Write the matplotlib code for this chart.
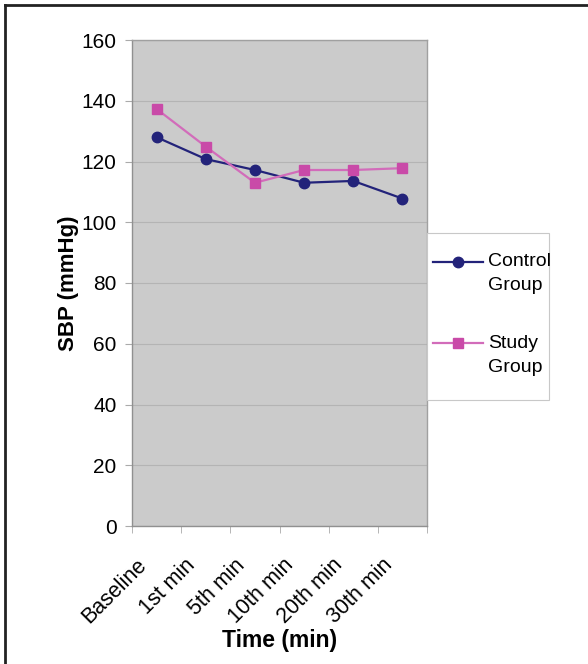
import numpy as np
import matplotlib
matplotlib.use("Agg")
import matplotlib.pyplot as plt
import matplotlib.transforms as mtransforms
from matplotlib.lines import Line2D
from matplotlib.patches import Rectangle

plt.rcParams['font.family'] = ['Liberation Sans', 'DejaVu Sans']

categories = ["Baseline", "1st min", "5th min", "10th min", "20th min", "30th min"]
control = [128.0, 120.8, 117.2, 113.0, 113.6, 107.8]
study = [137.3, 124.9, 113.0, 117.2, 117.2, 117.8]
legend_labels = ["Control\nGroup", "Study\nGroup"]

W, H = 588, 664
fig = plt.figure(figsize=(W / 100, H / 100), dpi=100)
ax = fig.add_axes([132/W, 1 - 526/H, 295/W, 486/H])

x = np.arange(len(categories))
ax.set_facecolor('#cbcbcb')
styles = [dict(color='#23237a', marker='o', ms=7.5, mfc='#23237a', mec='#23237a'),
          dict(color='#d26cba', marker='s', ms=7.5, mfc='#c94aa8', mec='#c94aa8')]
ax.plot(x, control, lw=1.6, zorder=3, **styles[0])
ax.plot(x, study, lw=1.6, zorder=3, **styles[1])

ax.set_xlim(-0.5, len(categories) - 0.5)
ax.set_ylim(0, 160)
ax.set_yticks(np.arange(0, 161, 20))
ax.yaxis.grid(True, color='#b4b4b4', lw=0.8)
ax.set_axisbelow(True)

ax.set_xticks(x)
ax.set_xticklabels(categories, rotation=45, ha='right', va='center',
                   rotation_mode='anchor', fontsize=15.5)
ax.set_xticks(np.arange(-0.5, len(categories)), minor=True)
ax.tick_params(axis='x', which='major', length=0, pad=0)
ax.tick_params(axis='x', which='minor', length=5, color='#aaaaaa', direction='out')
ax.tick_params(axis='y', length=5, color='#aaaaaa', labelsize=15, pad=6)
shift = mtransforms.ScaledTranslation(-0.135, -0.36, fig.dpi_scale_trans)
for lab in ax.get_xticklabels():
    lab.set_transform(lab.get_transform() + shift)

for s in ax.spines.values():
    s.set_color('#a0a0a0')
    s.set_linewidth(1.0)
ax.spines['left'].set_color('#909090')
ax.spines['bottom'].set_color('#909090')

ax.set_ylabel('SBP (mmHg)', fontsize=16, fontweight='bold', labelpad=2)
ax.set_xlabel('Time (min)', fontsize=16.5, fontweight='bold')
ax.xaxis.set_label_coords(0.5, -(640 - 526) / 486, transform=ax.transAxes)
ax.xaxis.label.set_va('center')

# legend box drawn by hand so the handle sits beside the first text line
def fx(px):
    return px / W

def fy(py):
    return 1 - py / H

fig.add_artist(Rectangle((fx(427), fy(400)), fx(549) - fx(427), fy(233) - fy(400),
                         transform=fig.transFigure, facecolor='white',
                         edgecolor='#c8c8c8', lw=0.8))
for label, st, yc in zip(legend_labels, styles, [262, 343]):
    fig.add_artist(Line2D([fx(433), fx(483)], [fy(yc), fy(yc)], color=st['color'],
                          lw=1.6, transform=fig.transFigure))
    fig.add_artist(Line2D([fx(458)], [fy(yc)], marker=st['marker'], ms=st['ms'],
                          mfc=st['mfc'], mec=st['mec'], lw=0, transform=fig.transFigure))
    for i, line in enumerate(label.split('\n')):
        fig.text(fx(488), fy(yc + 24 * i), line, fontsize=14, ha='left', va='center')

# outer frame (left and top edges only visible)
fig.add_artist(Line2D([fx(4.5), fx(4.5)], [0, fy(4.5)], color='#222222', lw=2, transform=fig.transFigure))
fig.add_artist(Line2D([fx(4.5), 1], [fy(4.5), fy(4.5)], color='#222222', lw=2, transform=fig.transFigure))

fig.savefig('out.png', dpi=100, facecolor='white')
